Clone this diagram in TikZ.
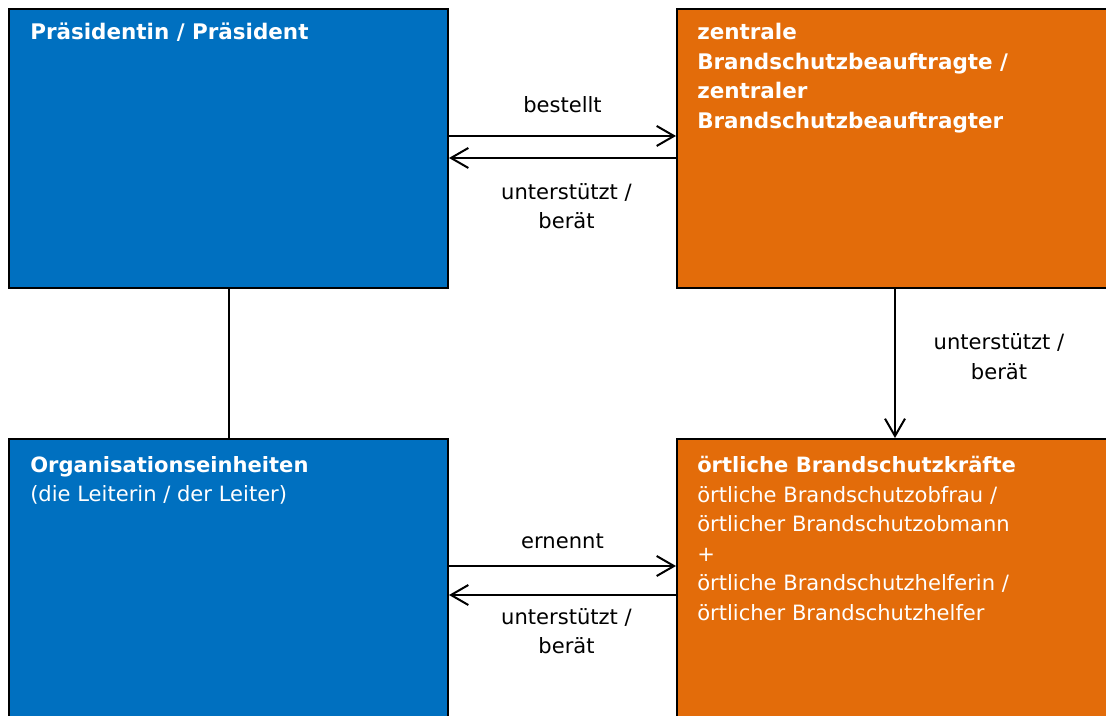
\documentclass[tikz,border=0pt]{standalone}
\usepackage{fontspec}
\setmainfont{DejaVu Sans}
\usepackage{xcolor}
\usetikzlibrary{arrows.meta, positioning, calc}
\definecolor{amtblau}{HTML}{0070C0}
\definecolor{amtorange}{HTML}{E36C0A}

\begin{document}
\begin{tikzpicture}[
  x=0.75pt, y=-0.75pt,
  font=\fontsize{15.8}{22.2}\selectfont,
  blau/.style={rectangle, draw=black, line width=1.5pt, fill=amtblau,
               anchor=north west, minimum width=329.25pt},
  orng/.style={rectangle, draw=black, line width=1.5pt, fill=amtorange,
               anchor=north west, minimum width=333pt},
  oben/.style={minimum height=209.25pt},
  unten/.style={minimum height=219pt},
  txt/.style={anchor=north west, inner sep=0pt, align=left, text=white},
  bf/.style={font=\fontsize{16.1}{22.2}\selectfont\bfseries},
  lbl/.style={align=center, inner sep=0pt},
  arr/.style={-{Straight Barb[length=13pt, width=15pt]}, line width=1.5pt}
]
\useasboundingbox (0,0) rectangle (1106,715);
%% boxes (left column x=8, right column x=676)
\node[blau, oben]  (pres) at (8,8)     {};
\node[orng, oben]  (zbb)  at (676,8)   {};
\node[blau, unten] (org)  at (8,438)   {};
\node[orng, unten] (oert) at (676,438) {};
%% box texts
\node[txt, bf] (pres_t) at (30,23) {Präsidentin / Präsident};
\node[txt, bf] (zbb_t)  at (697,23) {zentrale\\ Brandschutzbeauftragte /\\
                                     zentraler\\ Brandschutzbeauftragter};
\node[txt] (org_t)  at (30,456) {{\bfseries Organisationseinheiten}\\ (die Leiterin / der Leiter)};
\node[txt] (oert_t) at (697,456) {{\bfseries örtliche Brandschutzkräfte}\\
                                  örtliche Brandschutzobfrau /\\
                                  örtlicher Brandschutzobmann\\
                                  +\\
                                  örtliche Brandschutzhelferin /\\
                                  örtlicher Brandschutzhelfer};
%% connectors
\draw[arr] ([yshift=9.4pt]pres.east) -- ([yshift=9.4pt]zbb.west)
    node[lbl, midway, yshift=23.25pt] {bestellt};
\draw[arr] ([yshift=-7.1pt]zbb.west) -- ([yshift=-7.1pt]pres.east)
    node[lbl, midway, yshift=-36pt, xshift=3pt] {unterstützt /\\ berät};
\draw[arr] ([xshift=-3pt]zbb.south) -- ([xshift=-3pt]oert.north)
    node[lbl, midway, xshift=78pt, yshift=5.25pt] {unterstützt /\\ berät};
\draw[line width=1.5pt] (pres.south) -- (org.north);
\draw[arr] ([yshift=14.25pt]org.east) -- ([yshift=14.25pt]oert.west)
    node[lbl, midway, yshift=18.75pt] {ernennt};
\draw[arr] ([yshift=-7.5pt]oert.west) -- ([yshift=-7.5pt]org.east)
    node[lbl, midway, yshift=-27pt, xshift=3pt] {unterstützt /\\ berät};
\end{tikzpicture}
\end{document}
